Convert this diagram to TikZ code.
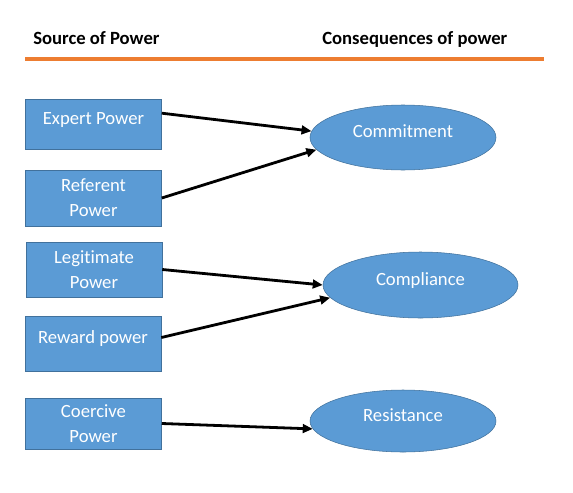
\documentclass[tikz,border=0pt]{standalone}
\usepackage{fontspec}
\setmainfont{Carlito}[Ligatures={NoCommon}]
\usetikzlibrary{shapes.geometric,arrows.meta}

\definecolor{boxfill}{HTML}{5B9BD5}
\definecolor{boxline}{HTML}{41719C}
\definecolor{rule}{HTML}{ED7D31}

\tikzset{
  powerbox/.style={draw=boxline, fill=boxfill, text=white, align=center,
    font=\fontsize{14}{18.75}\selectfont, minimum width=102pt, inner sep=0pt},
  oneline/.style={text height=9pt, text depth=9pt},
  result/.style={ellipse, draw=boxline, fill=boxfill, text=white,
    font=\fontsize{14}{18.75}\selectfont, oneline},
  heading/.style={anchor=base west, inner sep=0pt,
    font=\fontsize{14}{18.75}\selectfont\bfseries},
  link/.style={-{Triangle[length=7.5pt,width=6.5pt]}, line width=2.1pt}
}

\begin{document}
\begin{tikzpicture}[x=0.75pt,y=-0.75pt]

  \useasboundingbox (0,0) rectangle (573,492);

  \node[heading] (srchead) at (33,45) {Source of Power};
  \node[heading] (conhead) at (322,45) {Consequences of power};
  \draw[rule, line width=3pt] (25,59) -- (544,59);

  \node[powerbox, oneline, minimum height=37.5pt] (expert) at (93.5,124) {Expert Power};
  \node[powerbox, minimum height=42pt] (referent) at (93.5,198) {Referent\\Power};
  \node[powerbox, minimum height=41.25pt] (legit) at (94,269.5) {Legitimate\\Power};
  \node[powerbox, oneline, minimum height=41.25pt] (reward) at (93,343.5) {Reward power};
  \node[powerbox, minimum height=38.25pt] (coercive) at (93.5,423.5) {Coercive\\Power};

  \node[result, minimum width=139.5pt, minimum height=48.75pt] (commit) at (403,137.5) {Commitment};
  \node[result, minimum width=146.25pt, minimum height=49.5pt] (comply) at (420.5,285) {Compliance};
  \node[result, minimum width=139.5pt, minimum height=46.5pt] (resist) at (403,421) {Resistance};

  \draw[link] (expert.9) -- (commit.176);
  \draw[link] (referent.east) -- (commit.188);

  \draw[link] (legit.east) -- (comply.180);
  \draw[link] (reward.5) -- (comply.188);

  \draw[link] (coercive.east) -- (resist.185);

\end{tikzpicture}
\end{document}
